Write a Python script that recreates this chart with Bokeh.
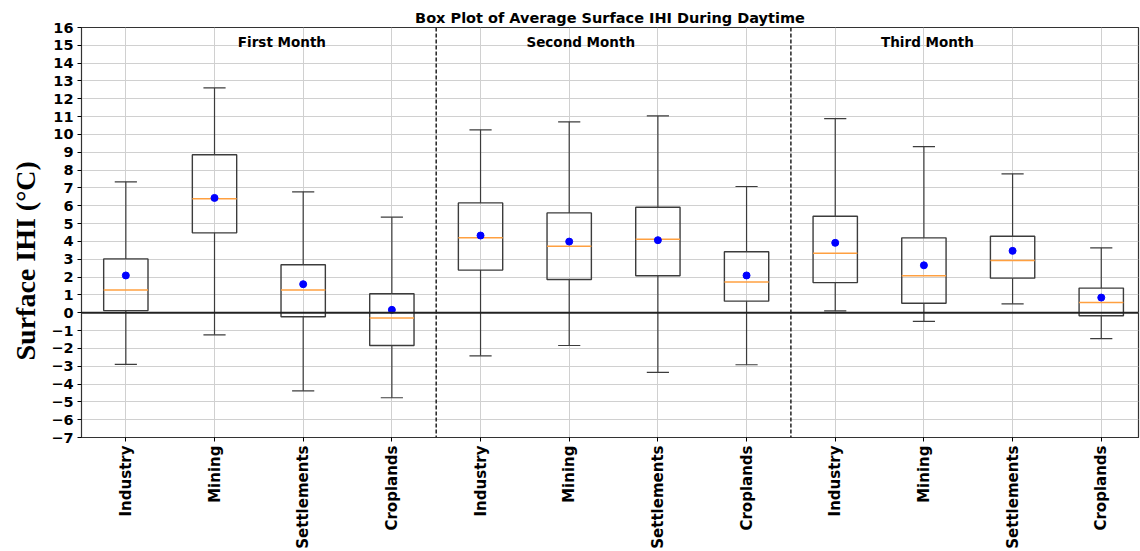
import math
from bokeh.plotting import figure
from bokeh.models import Range1d, FixedTicker, Span, Label, ColumnDataSource, Title
from bokeh.embed import file_html
from bokeh.resources import INLINE

# ---- data ----
categories = ["Industry", "Mining", "Settlements", "Croplands",
              "Industry", "Mining", "Settlements", "Croplands",
              "Industry", "Mining", "Settlements", "Croplands"]
positions = [1, 2, 3, 4, 5, 6, 7, 8, 9, 10, 11, 12]
whisker_low = [-2.90, -1.24, -4.38, -4.77, -2.42, -1.84, -3.35, -2.92, 0.10, -0.49, 0.50, -1.45]
q1 = [0.12, 4.48, -0.23, -1.84, 2.39, 1.86, 2.07, 0.65, 1.69, 0.53, 1.94, -0.17]
median = [1.28, 6.39, 1.28, -0.29, 4.20, 3.73, 4.12, 1.73, 3.34, 2.07, 2.93, 0.57]
q3 = [3.02, 8.86, 2.69, 1.06, 6.16, 5.60, 5.92, 3.42, 5.41, 4.20, 4.29, 1.38]
whisker_high = [7.34, 12.61, 6.78, 5.36, 10.26, 10.71, 11.04, 7.08, 10.89, 9.32, 7.79, 3.64]
mean = [2.09, 6.44, 1.60, 0.16, 4.33, 3.99, 4.07, 2.09, 3.92, 2.66, 3.47, 0.85]

month_labels = ["First Month", "Second Month", "Third Month"]
month_label_x = [2.76, 6.13, 10.04]
month_dividers = [4.5, 8.5]

y_ticks = [-7, -6, -5, -4, -3, -2, -1, 0, 1, 2, 3, 4, 5, 6, 7, 8, 9, 10, 11, 12, 13, 14, 15, 16]
y_tick_labels = ["−7", "−6", "−5", "−4", "−3", "−2", "−1", "0", "1", "2", "3", "4",
                 "5", "6", "7", "8", "9", "10", "11", "12", "13", "14", "15", "16"]

title_text = "Box Plot of Average Surface IHI During Daytime"
y_label_text = "Surface IHI (°C)"

# ---- styling constants ----
BOX_HALF = 0.25
CAP_HALF = 0.125
FONT = "DejaVu Sans"
BOX_COLOR = "#3c3c3c"

p = figure(width=1140, height=551, output_backend="svg", toolbar_location=None,
           x_range=Range1d(0.5, 12.42), y_range=Range1d(-7, 16),
           min_border_left=0, min_border_right=2, min_border_top=27, min_border_bottom=114)
p.background_fill_color = "white"
p.border_fill_color = "white"
p.outline_line_color = "#333333"
p.outline_line_width = 1.2

# title (top)
p.title.text = title_text
p.title.align = "center"
p.title.text_font = FONT
p.title.text_font_style = "bold"
p.title.text_font_size = "14.5px"
p.title.text_color = "black"
p.title.standoff = 4
p.title.offset = 0

# y label as a left-side title
ylab = Title(text=y_label_text, align="left", offset=77, standoff=15,
             text_font="Liberation Serif", text_font_style="bold",
             text_font_size="28px", text_color="black")
p.add_layout(ylab, "left")

# grids
p.xgrid.ticker = FixedTicker(ticks=positions)
p.ygrid.ticker = FixedTicker(ticks=y_ticks)
p.xgrid.grid_line_color = "#d0d0d0"
p.ygrid.grid_line_color = "#d0d0d0"
p.xgrid.grid_line_width = 1
p.ygrid.grid_line_width = 1

# axes
p.xaxis.ticker = FixedTicker(ticks=positions)
p.xaxis.major_label_overrides = {pos: cat for pos, cat in zip(positions, categories)}
p.xaxis.major_label_orientation = math.pi / 2
p.xaxis.major_label_text_font = FONT
p.xaxis.major_label_text_font_style = "bold"
p.xaxis.major_label_text_font_size = "15px"
p.xaxis.major_label_text_color = "black"
p.xaxis.major_label_standoff = 4
p.xaxis.major_tick_out = 4
p.xaxis.major_tick_in = 0
p.xaxis.minor_tick_line_color = None
p.xaxis.axis_line_color = "#333333"

p.yaxis.ticker = FixedTicker(ticks=y_ticks)
p.yaxis.major_label_overrides = {t: l for t, l in zip(y_ticks, y_tick_labels)}
p.yaxis.major_label_text_font = FONT
p.yaxis.major_label_text_font_style = "bold"
p.yaxis.major_label_text_font_size = "14.5px"
p.yaxis.major_label_text_color = "black"
p.yaxis.major_label_standoff = 4
p.yaxis.major_tick_out = 4
p.yaxis.major_tick_in = 0
p.yaxis.minor_tick_line_color = None
p.yaxis.axis_line_color = "#333333"

# boxes
src = ColumnDataSource(dict(
    x=positions,
    left=[x - BOX_HALF for x in positions],
    right=[x + BOX_HALF for x in positions],
    cap_l=[x - CAP_HALF for x in positions],
    cap_r=[x + CAP_HALF for x in positions],
    wl=whisker_low, q1=q1, med=median, q3=q3, wh=whisker_high, mean=mean,
))

p.segment(x0="x", y0="q3", x1="x", y1="wh", source=src, line_color=BOX_COLOR, line_width=1.2)
p.segment(x0="x", y0="q1", x1="x", y1="wl", source=src, line_color=BOX_COLOR, line_width=1.2)
p.segment(x0="cap_l", y0="wh", x1="cap_r", y1="wh", source=src, line_color=BOX_COLOR, line_width=1.2)
p.segment(x0="cap_l", y0="wl", x1="cap_r", y1="wl", source=src, line_color=BOX_COLOR, line_width=1.2)
p.quad(left="left", right="right", bottom="q1", top="q3", source=src,
       fill_color=None, line_color=BOX_COLOR, line_width=1.4)
p.segment(x0="left", y0="med", x1="right", y1="med", source=src,
          line_color="#ffa040", line_width=1.5)
p.scatter(x="x", y="mean", source=src, size=7, color="blue", line_color="blue")

# zero line and dividers
p.add_layout(Span(location=0, dimension="width", line_color="#222222", line_width=2))
for d in month_dividers:
    p.add_layout(Span(location=d, dimension="height", line_color="#222222",
                      line_width=1.5, line_dash="4 2"))

# month labels
for txt, mx in zip(month_labels, month_label_x):
    p.add_layout(Label(x=mx, y=16, y_offset=-6, text=txt, text_align="center",
                       text_baseline="top", text_font=FONT, text_font_style="bold",
                       text_font_size="13.5px", text_color="black"))

open("out.html", "w").write(file_html(p, INLINE))
